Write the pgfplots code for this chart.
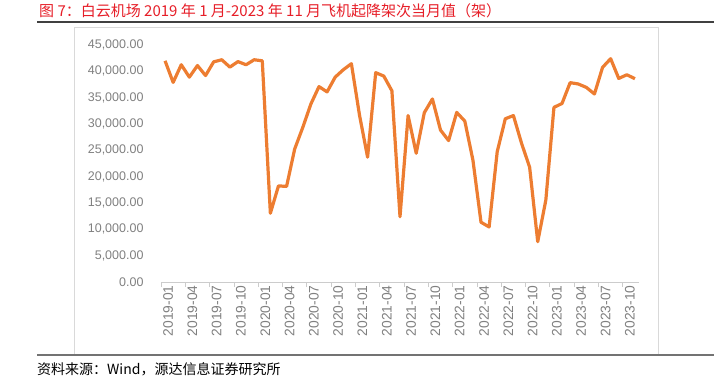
\documentclass[border=0pt]{standalone}
\usepackage{pgfplots}
\pgfplotsset{compat=1.18}
\usepackage{pgfplotstable}
\usepackage{fontspec}
\setmainfont{Liberation Sans}
\newfontfamily\cjk{Noto Sans CJK SC}
\definecolor{lineor}{RGB}{237,125,49}
\definecolor{titlered}{RGB}{230,30,40}
\definecolor{tickgray}{RGB}{128,128,128}
\pgfplotstableread{
i v
0 42000
1 37900
2 41250
3 38900
4 41100
5 39200
6 41800
7 42200
8 40800
9 41850
10 41250
11 42200
12 42000
13 13050
14 18250
15 18150
16 25250
17 29350
18 33800
19 37100
20 36100
21 38900
22 40300
23 41450
24 31700
25 23700
26 39750
27 39100
28 36300
29 12400
30 31600
31 24450
32 32150
33 34750
34 28850
35 26850
36 32200
37 30550
38 23150
39 11350
40 10450
41 24750
42 31000
43 31600
44 26350
45 21800
46 7650
47 15550
48 33150
49 33900
50 37850
51 37600
52 36950
53 35700
54 40750
55 42400
56 38650
57 39350
58 38600
}\data
\begin{document}
\begin{tikzpicture}[x=1pt,y=1pt]
\useasboundingbox (0,0) rectangle (725,378);
\node[anchor=west,inner sep=0pt,text=titlered,font=\cjk\fontsize{15}{16}\selectfont] at (39,367) {图 7：白云机场 2019 年 1 月-2023 年 11 月飞机起降架次当月值（架）};
\draw[line width=1.4pt,black!75] (37,356) -- (714,356);
\draw[black!15,line width=0.8pt] (74,350.5) rectangle (658,23);
\draw[line width=1.4pt,black!55] (37,23) -- (714,23);
\node[anchor=west,inner sep=0pt,font=\cjk\fontsize{14}{16}\selectfont] at (37,8.5) {资料来源：Wind，源达信息证券研究所};
\begin{axis}[
  at={(161pt,96pt)}, anchor=south west,
  scale only axis, width=478pt, height=237pt,
  xmin=-0.5, xmax=58.5, ymin=0, ymax=45000,
  axis line style={draw=none},
  ytick={0,5000,...,45000},
  yticklabel style={text=tickgray,font=\fontsize{12.5}{14}\selectfont,xshift=-14pt},
  /pgf/number format/.cd, fixed, fixed zerofill, precision=2, 1000 sep={,}, assume math mode=true,
  /pgfplots/.cd,
  scaled y ticks=false,
  major tick length=0pt,
  tick pos=left,
  xtick={0,3,...,57},
  xticklabels={2019-01,2019-04,2019-07,2019-10,2020-01,2020-04,2020-07,2020-10,2021-01,2021-04,2021-07,2021-10,2022-01,2022-04,2022-07,2022-10,2023-01,2023-04,2023-07,2023-10},
  xticklabel style={rotate=90,anchor=east,text=tickgray,font=\fontsize{13.8}{14}\selectfont,yshift=-3pt},
  extra x ticks={-0.5,2.5,...,56.5},
  extra x tick labels={},
  extra x tick style={major tick length=5pt, tick align=outside, tick style={black!20,line width=0.8pt}},
  clip=false,
]
\draw[black!20,line width=0.8pt] (axis cs:-0.5,0) -- (axis cs:58.5,0);
\addplot[lineor, line width=3.2pt, line join=round, no marks] table[x=i,y=v] {\data};
\end{axis}
\end{tikzpicture}
\end{document}
